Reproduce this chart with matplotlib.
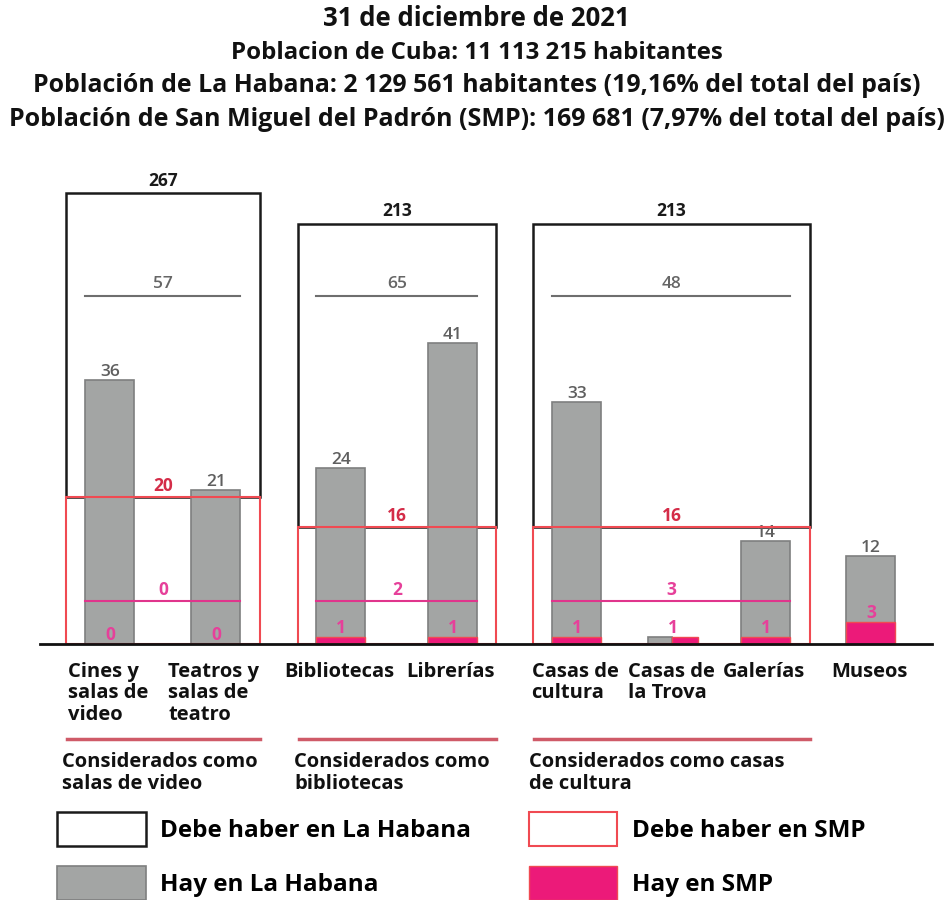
import matplotlib
matplotlib.use('Agg')
import matplotlib.pyplot as plt
from matplotlib.patches import Rectangle, Patch

plt.rcParams['font.family'] = ['Open Sans', 'DejaVu Sans']
plt.rcParams['font.weight'] = 'bold'

# data
categories = ['Cines y\nsalas de\nvideo', 'Teatros y\nsalas de\nteatro', 'Bibliotecas', 'Librerías',
              'Casas de\ncultura', 'Casas de\nla Trova', 'Galerías', 'Museos']
habana = [36, 21, 24, 41, 33, 1, 14, 12]
smp = [0, 0, 1, 1, 1, 1, 1, 3]
groups = ['Considerados como\nsalas de video', 'Considerados como\nbibliotecas',
          'Considerados como casas\nde cultura']
group_members = [[0, 1], [2, 3], [4, 5, 6]]
debe_habana = [267, 213, 213]
debe_smp = [20, 16, 16]
ref_habana = [57, 65, 48]
ref_smp = [0, 2, 3]
titles = ['31 de diciembre de 2021',
          'Poblacion de Cuba: 11 113 215 habitantes',
          'Población de La Habana: 2 129 561 habitantes (19,16% del total del país)',
          'Población de San Miguel del Padrón (SMP): 169 681 (7,97% del total del país)']

# layout (x in pixels, y in value units)
K = 7.33  # pixels per unit
xpos = [110, 216, 341, 453, 577, 673, 766, 871]
bw = 49
box_x = [(66, 260), (298, 496), (533, 810)]
box_top = [61.5, 57.3, 57.3]   # axis is broken for the big boxes
ref_h_y = 47.5
ref_s_y = 5.9

GRAY = '#a3a5a4'
GRAYEDGE = '#7e7f7f'
PINK = '#ec1a79'
RED = '#f04a52'
CRIMSON = '#d42c48'
PINKTXT = '#e6409a'
LINEPINK = '#e0358c'
NUM = 12.5

def Y(px):
    return (644 - px) / K

fig = plt.figure(figsize=(9.53, 9.0), dpi=100)
ax = fig.add_axes([0, 0, 1, 1])
ax.set_xlim(0, 953)
ax.set_ylim(Y(900), Y(0))
ax.axis('off')

# boxes "debe haber"
for g in range(3):
    x0, x1 = box_x[g]
    ax.add_patch(Rectangle((x0, debe_smp[g]), x1 - x0, box_top[g] - debe_smp[g],
                           fill=False, ec='#1a1a1a', lw=1.8, zorder=1))
    ax.add_patch(Rectangle((x0, 0), x1 - x0, debe_smp[g], fill=False, ec=RED, lw=1.5, zorder=4))
    xc = (x0 + x1) / 2
    ax.text(xc, box_top[g] + 0.5, str(debe_habana[g]), ha='center', va='bottom',
            fontsize=NUM, color='#1a1a1a')
    ax.text(xc, debe_smp[g] + 0.3, str(debe_smp[g]), ha='center', va='bottom',
            fontsize=NUM, color=CRIMSON)

# bars
for i in range(len(categories)):
    if i == 5:
        # split bar: habana and smp side by side
        ax.bar(xpos[i] - 12.5, habana[i], 24, color=GRAY, ec=GRAYEDGE, lw=1.2, zorder=2)
        ax.bar(xpos[i] + 12.5, smp[i], 26, color=PINK, ec=RED, lw=1.0, zorder=3)
        ax.annotate(str(smp[i]), (xpos[i], smp[i]), xytext=(0, 0), textcoords='offset points',
                    ha='center', va='bottom', fontsize=NUM, color=PINKTXT)
        continue
    ax.bar(xpos[i], habana[i], bw, color=GRAY, ec=GRAYEDGE, lw=1.2, zorder=2)
    ax.annotate(str(habana[i]), (xpos[i], habana[i]), xytext=(0, 0), textcoords='offset points',
                ha='center', va='bottom', fontsize=NUM, fontweight='semibold', color='#5f5f5f')
    if smp[i] > 0:
        ax.bar(xpos[i], smp[i], bw, color=PINK, ec=RED, lw=1.0, zorder=3)
    ax.annotate(str(smp[i]), (xpos[i], smp[i]), xytext=(0, 0), textcoords='offset points',
                ha='center', va='bottom', fontsize=NUM, color=PINKTXT)

# reference lines
for g in range(3):
    m = group_members[g]
    x0 = xpos[m[0]] - bw / 2
    x1 = xpos[m[-1]] + bw / 2
    xc = (x0 + x1) / 2
    ax.plot([x0, x1], [ref_h_y, ref_h_y], color='#6e6e6e', lw=1.5, zorder=5)
    ax.text(xc, ref_h_y + 0.5, str(ref_habana[g]), ha='center', va='bottom',
            fontsize=NUM, fontweight='semibold', color='#666666')
    ax.plot([x0, x1], [ref_s_y, ref_s_y], color=LINEPINK, lw=1.5, zorder=5)
    ax.text(xc, ref_s_y + 0.3, str(ref_smp[g]), ha='center', va='bottom',
            fontsize=NUM, color=PINKTXT)

# baseline
ax.plot([40, 932], [0, 0], color='#111111', lw=2, zorder=6)

# category labels
for i in range(len(categories)):
    ax.text(xpos[i] - 2, Y(662), categories[i], ha='center', va='top', multialignment='left',
            fontsize=14.5, linespacing=1.1, color='#111111')

# group labels
for g in range(3):
    x0, x1 = box_x[g]
    ax.plot([x0 + 1, x1], [Y(739), Y(739)], color='#cf5a68', lw=2.5)
    ax.text(x0 - 4, Y(752), groups[g], ha='left', va='top', fontsize=14.5,
            linespacing=1.12, color='#111111')

# titles
ty = [18, 53, 86, 120]
tsize = [18.5, 17.3, 17.9, 18]
for j in range(4):
    fig.text(0.5, 1 - ty[j] / 900, titles[j], ha='center', va='center',
             fontsize=tsize[j], color='#111111')

# legend
handles = [Patch(fc='white', ec='#1a1a1a', lw=1.8, label='Debe haber en La Habana'),
           Patch(fc=GRAY, ec=GRAYEDGE, lw=1.2, label='Hay en La Habana'),
           Patch(fc='white', ec=RED, lw=1.5, label='Debe haber en SMP'),
           Patch(fc=PINK, ec=RED, lw=1.0, label='Hay en SMP')]
fig.legend(handles=handles, ncol=2, loc='upper left', bbox_to_anchor=(45 / 953, 1 - 800 / 900),
           frameon=False, borderpad=0, fontsize=17.5, handlelength=3.65, handleheight=1.78,
           handletextpad=0.6, columnspacing=2.35, labelspacing=0.82)

fig.savefig('out.png', dpi=100)
